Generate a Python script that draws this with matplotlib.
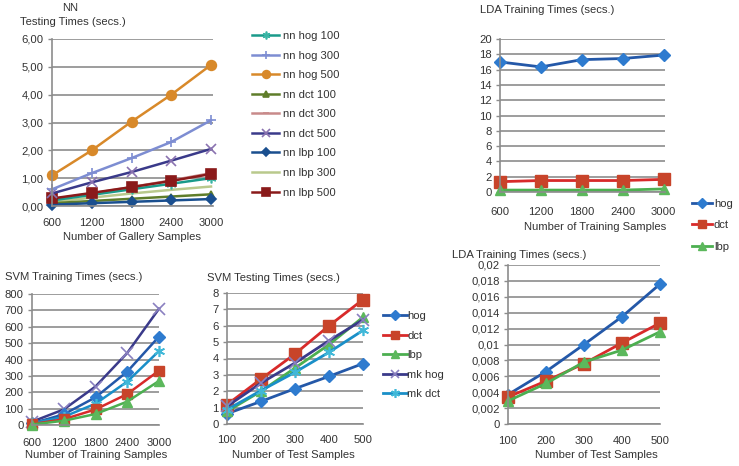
import matplotlib
matplotlib.use('Agg')
import matplotlib.pyplot as plt

plt.rcParams['font.family'] = ['Liberation Sans', 'DejaVu Sans']
plt.rcParams['font.size'] = 8.1
plt.rcParams['text.color'] = '#333333'

# ---- data ----
nn_x = [600, 1200, 1800, 2400, 3000]
nn_hog_100 = [0.20, 0.40, 0.60, 0.80, 1.00]
nn_hog_300 = [0.60, 1.18, 1.72, 2.30, 3.08]
nn_hog_500 = [1.10, 2.00, 3.03, 4.00, 5.07]
nn_dct_100 = [0.10, 0.18, 0.26, 0.34, 0.42]
nn_dct_300 = [0.25, 0.45, 0.68, 0.92, 1.18]
nn_dct_500 = [0.45, 0.85, 1.22, 1.63, 2.05]
nn_lbp_100 = [0.05, 0.10, 0.15, 0.20, 0.25]
nn_lbp_300 = [0.15, 0.30, 0.45, 0.58, 0.70]
nn_lbp_500 = [0.27, 0.47, 0.68, 0.90, 1.15]
nn_yticks = ['0,00', '1,00', '2,00', '3,00', '4,00', '5,00', '6,00']

lda_train_x = [600, 1200, 1800, 2400, 3000]
lda_train_hog = [17.0, 16.35, 17.3, 17.45, 17.9]
lda_train_dct = [1.35, 1.5, 1.5, 1.5, 1.65]
lda_train_lbp = [0.25, 0.25, 0.25, 0.25, 0.4]

svm_train_x = [600, 1200, 1800, 2400, 3000]
svm_train_hog = [10, 65, 169, 326, 540]
svm_train_dct = [5, 35, 95, 189, 332]
svm_train_lbp = [3, 26, 67, 143, 269]
svm_train_mkhog = [20, 95, 235, 440, 710]
svm_train_mkdct = [10, 50, 130, 265, 452]

test_x = [100, 200, 300, 400, 500]
svm_test_hog = [0.63, 1.38, 2.16, 2.91, 3.69]
svm_test_dct = [1.18, 2.75, 4.28, 6.0, 7.6]
svm_test_lbp = [0.77, 2.0, 3.42, 4.85, 6.52]
svm_test_mkhog = [1.08, 2.5, 3.73, 5.09, 6.37]
svm_test_mkdct = [0.88, 2.04, 3.16, 4.38, 5.72]

lda_test_hog = [0.0037, 0.0066, 0.0100, 0.0135, 0.0176]
lda_test_dct = [0.0034, 0.0054, 0.0076, 0.0102, 0.0127]
lda_test_lbp = [0.0029, 0.0051, 0.0078, 0.0093, 0.0116]
lda_test_yticks = ['0', '0,002', '0,004', '0,006', '0,008', '0,01',
                   '0,012', '0,014', '0,016', '0,018', '0,02']

W, H = 739, 466
GRID = '#8c8c8c'
ASTER = (6, 2, 0)  # six-armed asterisk marker


def box(l, t, r, b):
    # pixel box -> figure fraction rect
    return [l / W, 1 - b / H, (r - l) / W, (b - t) / H]


def style(ax, xticks, xpad):
    for s in ['top', 'right']:
        ax.spines[s].set_visible(False)
    for s in ['left', 'bottom']:
        ax.spines[s].set_color(GRID)
        ax.spines[s].set_linewidth(1.2)
    ax.yaxis.grid(True, color=GRID, linewidth=1.2)
    ax.set_axisbelow(True)
    ax.set_xticks(xticks)
    ax.tick_params(axis='x', length=0, pad=xpad, colors='#333333')
    ax.tick_params(axis='y', length=3, width=1, pad=3, colors='#333333')
    ax.tick_params(axis='y', color=GRID)


fig = plt.figure(figsize=(W / 100, H / 100), dpi=100)

# ---- NN testing times ----
ax1 = fig.add_axes(box(52, 39, 213, 206))
nn_lines = [
    ('nn hog 100', nn_hog_100, '#1a9a8a', ASTER, '#3ab5a5'),
    ('nn hog 300', nn_hog_300, '#7d8dd2', '+', '#7d8dd2'),
    ('nn hog 500', nn_hog_500, '#d8892a', 'o', '#d8892a'),
    ('nn dct 100', nn_dct_100, '#5f7d2a', '^', '#5f7d2a'),
    ('nn dct 300', nn_dct_300, '#c88a8a', '_', '#c88a8a'),
    ('nn dct 500', nn_dct_500, '#3a3a8a', 'x', '#8a72b0'),
    ('nn lbp 100', nn_lbp_100, '#1a4f8f', 'D', '#1a4f8f'),
    ('nn lbp 300', nn_lbp_300, '#b9c98c', None, '#b9c98c'),
    ('nn lbp 500', nn_lbp_500, '#8a1a1a', 's', '#8a1a1a'),
]
draw_order = [4, 7, 0, 3, 6, 8, 5, 1, 2]
handles = {}
for i in draw_order:
    lab, ys, c, m, mc = nn_lines[i]
    ms = 7 if m in ('o', 's', 'x', '+', ASTER) else 5
    ln, = ax1.plot(nn_x, ys, color=c, lw=1.8, marker=m, ms=ms, mfc=mc, mec=mc,
                   mew=1.2, label=lab, clip_on=False)
    handles[i] = ln
ax1.set_xlim(600, 3030)
ax1.set_ylim(0, 6)
style(ax1, nn_x, 9)
ax1.set_yticks(range(7))
ax1.set_yticklabels(nn_yticks)
fig.text(62 / W, 1 - 8 / H, 'NN', ha='left', va='center')
fig.text(20 / W, 1 - 22 / H, 'Testing Times (secs.)', ha='left', va='center')
fig.text(132 / W, 1 - 237 / H, 'Number of Gallery Samples', ha='center', va='center')
fig.legend([handles[i] for i in range(9)], [l[0] for l in nn_lines],
           loc='upper left', bbox_to_anchor=(252 / W, 1 - 31 / H),
           frameon=False, borderpad=0, borderaxespad=0, labelspacing=0.85,
           handlelength=2.4, handletextpad=0.35, markerscale=0.8)

# ---- LDA training times (top) ----
hog_c, hog_m = '#2458a8', '#2e7bcf'
dct_c, dct_m = '#d82a2a', '#c8442a'
lbp_c, lbp_m = '#4caf50', '#5cb85c'
mkhog_c, mkhog_m = '#3a3a8a', '#8a80c0'
mkdct_c, mkdct_m = '#1a8fc8', '#40b8d8'

ax2 = fig.add_axes(box(500, 39, 665, 192))
l_hog, = ax2.plot(lda_train_x, lda_train_hog, color=hog_c, lw=2, marker='D', ms=6,
                  mfc=hog_m, mec=hog_m, clip_on=False)
l_dct, = ax2.plot(lda_train_x, lda_train_dct, color=dct_c, lw=2, marker='s', ms=8,
                  mfc=dct_m, mec=dct_m, clip_on=False)
l_lbp, = ax2.plot(lda_train_x, lda_train_lbp, color=lbp_c, lw=2, marker='^', ms=7,
                  mfc=lbp_m, mec=lbp_m, clip_on=False)
ax2.set_xlim(600, 3020)
ax2.set_ylim(0, 20)
ax2.set_yticks(range(0, 21, 2))
style(ax2, lda_train_x, 11)
fig.text(480 / W, 1 - 10 / H, 'LDA Training Times (secs.)', ha='left', va='center')
fig.text(595 / W, 1 - 227 / H, 'Number of Training Samples', ha='center', va='center')
fig.legend([l_hog, l_dct, l_lbp], ['hog', 'dct', 'lbp'],
           loc='upper left', bbox_to_anchor=(692 / W, 1 - 199 / H),
           frameon=False, borderpad=0, borderaxespad=0, labelspacing=1.0,
           handlelength=1.8, handletextpad=0.15, markerscale=0.8)

# ---- SVM training times ----
ax3 = fig.add_axes(box(32, 294, 159, 425))
ax3.plot(svm_train_x, svm_train_mkhog, color=mkhog_c, lw=1.8, marker='x', ms=8,
         mec=mkhog_m, mew=1.2, clip_on=False)
ax3.plot(svm_train_x, svm_train_hog, color=hog_c, lw=1.8, marker='D', ms=6,
         mfc=hog_m, mec=hog_m, clip_on=False)
ax3.plot(svm_train_x, svm_train_mkdct, color=mkdct_c, lw=1.8, marker=ASTER, ms=8,
         mec=mkdct_m, mew=1.2, clip_on=False)
ax3.plot(svm_train_x, svm_train_dct, color=dct_c, lw=1.8, marker='s', ms=7,
         mfc=dct_m, mec=dct_m, clip_on=False)
ax3.plot(svm_train_x, svm_train_lbp, color=lbp_c, lw=1.8, marker='^', ms=7,
         mfc=lbp_m, mec=lbp_m, clip_on=False)
ax3.set_xlim(600, 3000)
ax3.set_ylim(0, 800)
ax3.set_yticks(range(0, 801, 100))
style(ax3, svm_train_x, 9)
fig.text(5 / W, 1 - 277 / H, 'SVM Training Times (secs.)', ha='left', va='center')
fig.text(96 / W, 1 - 455 / H, 'Number of Training Samples', ha='center', va='center')

# ---- SVM testing times ----
ax4 = fig.add_axes(box(227, 293, 363, 424))
s_hog, = ax4.plot(test_x, svm_test_hog, color=hog_c, lw=2, marker='D', ms=6,
                  mfc=hog_m, mec=hog_m, clip_on=False)
s_dct, = ax4.plot(test_x, svm_test_dct, color=dct_c, lw=2, marker='s', ms=8,
                  mfc=dct_m, mec=dct_m, clip_on=False)
s_lbp, = ax4.plot(test_x, svm_test_lbp, color=lbp_c, lw=2, marker='^', ms=7,
                  mfc=lbp_m, mec=lbp_m, clip_on=False)
s_mkhog, = ax4.plot(test_x, svm_test_mkhog, color=mkhog_c, lw=2, marker='x', ms=8,
                    mec=mkhog_m, mew=1.2, clip_on=False)
s_mkdct, = ax4.plot(test_x, svm_test_mkdct, color=mkdct_c, lw=2, marker=ASTER, ms=8,
                    mfc=mkdct_m, mec=mkdct_m, mew=1.2, clip_on=False)
ax4.set_xlim(100, 500)
ax4.set_ylim(0, 8)
ax4.set_yticks(range(9))
style(ax4, test_x, 8)
fig.text(207 / W, 1 - 278 / H, 'SVM Testing Times (secs.)', ha='left', va='center')
fig.text(293 / W, 1 - 455 / H, 'Number of Test Samples', ha='center', va='center')
fig.legend([s_hog, s_dct, s_lbp, s_mkhog, s_mkdct],
           ['hog', 'dct', 'lbp', 'mk hog', 'mk dct'],
           loc='upper left', bbox_to_anchor=(383 / W, 1 - 311 / H),
           frameon=False, borderpad=0, borderaxespad=0, labelspacing=0.85,
           handlelength=2.1, handletextpad=0.05, markerscale=0.8)

# ---- LDA testing (bottom right) ----
ax5 = fig.add_axes(box(508, 265, 660, 424))
ax5.plot(test_x, lda_test_hog, color=hog_c, lw=2, marker='D', ms=6,
         mfc=hog_m, mec=hog_m, clip_on=False)
ax5.plot(test_x, lda_test_dct, color=dct_c, lw=2, marker='s', ms=8,
         mfc=dct_m, mec=dct_m, clip_on=False)
ax5.plot(test_x, lda_test_lbp, color=lbp_c, lw=2, marker='^', ms=7,
         mfc=lbp_m, mec=lbp_m, clip_on=False)
ax5.set_xlim(100, 500)
ax5.set_ylim(0, 0.02)
ax5.set_yticks([i * 0.002 for i in range(11)])
ax5.set_yticklabels(lda_test_yticks)
style(ax5, test_x, 9)
fig.text(452 / W, 1 - 255 / H, 'LDA Training Times (secs.)', ha='left', va='center')
fig.text(596 / W, 1 - 455 / H, 'Number of Test Samples', ha='center', va='center')

fig.savefig('out.png', dpi=100)
